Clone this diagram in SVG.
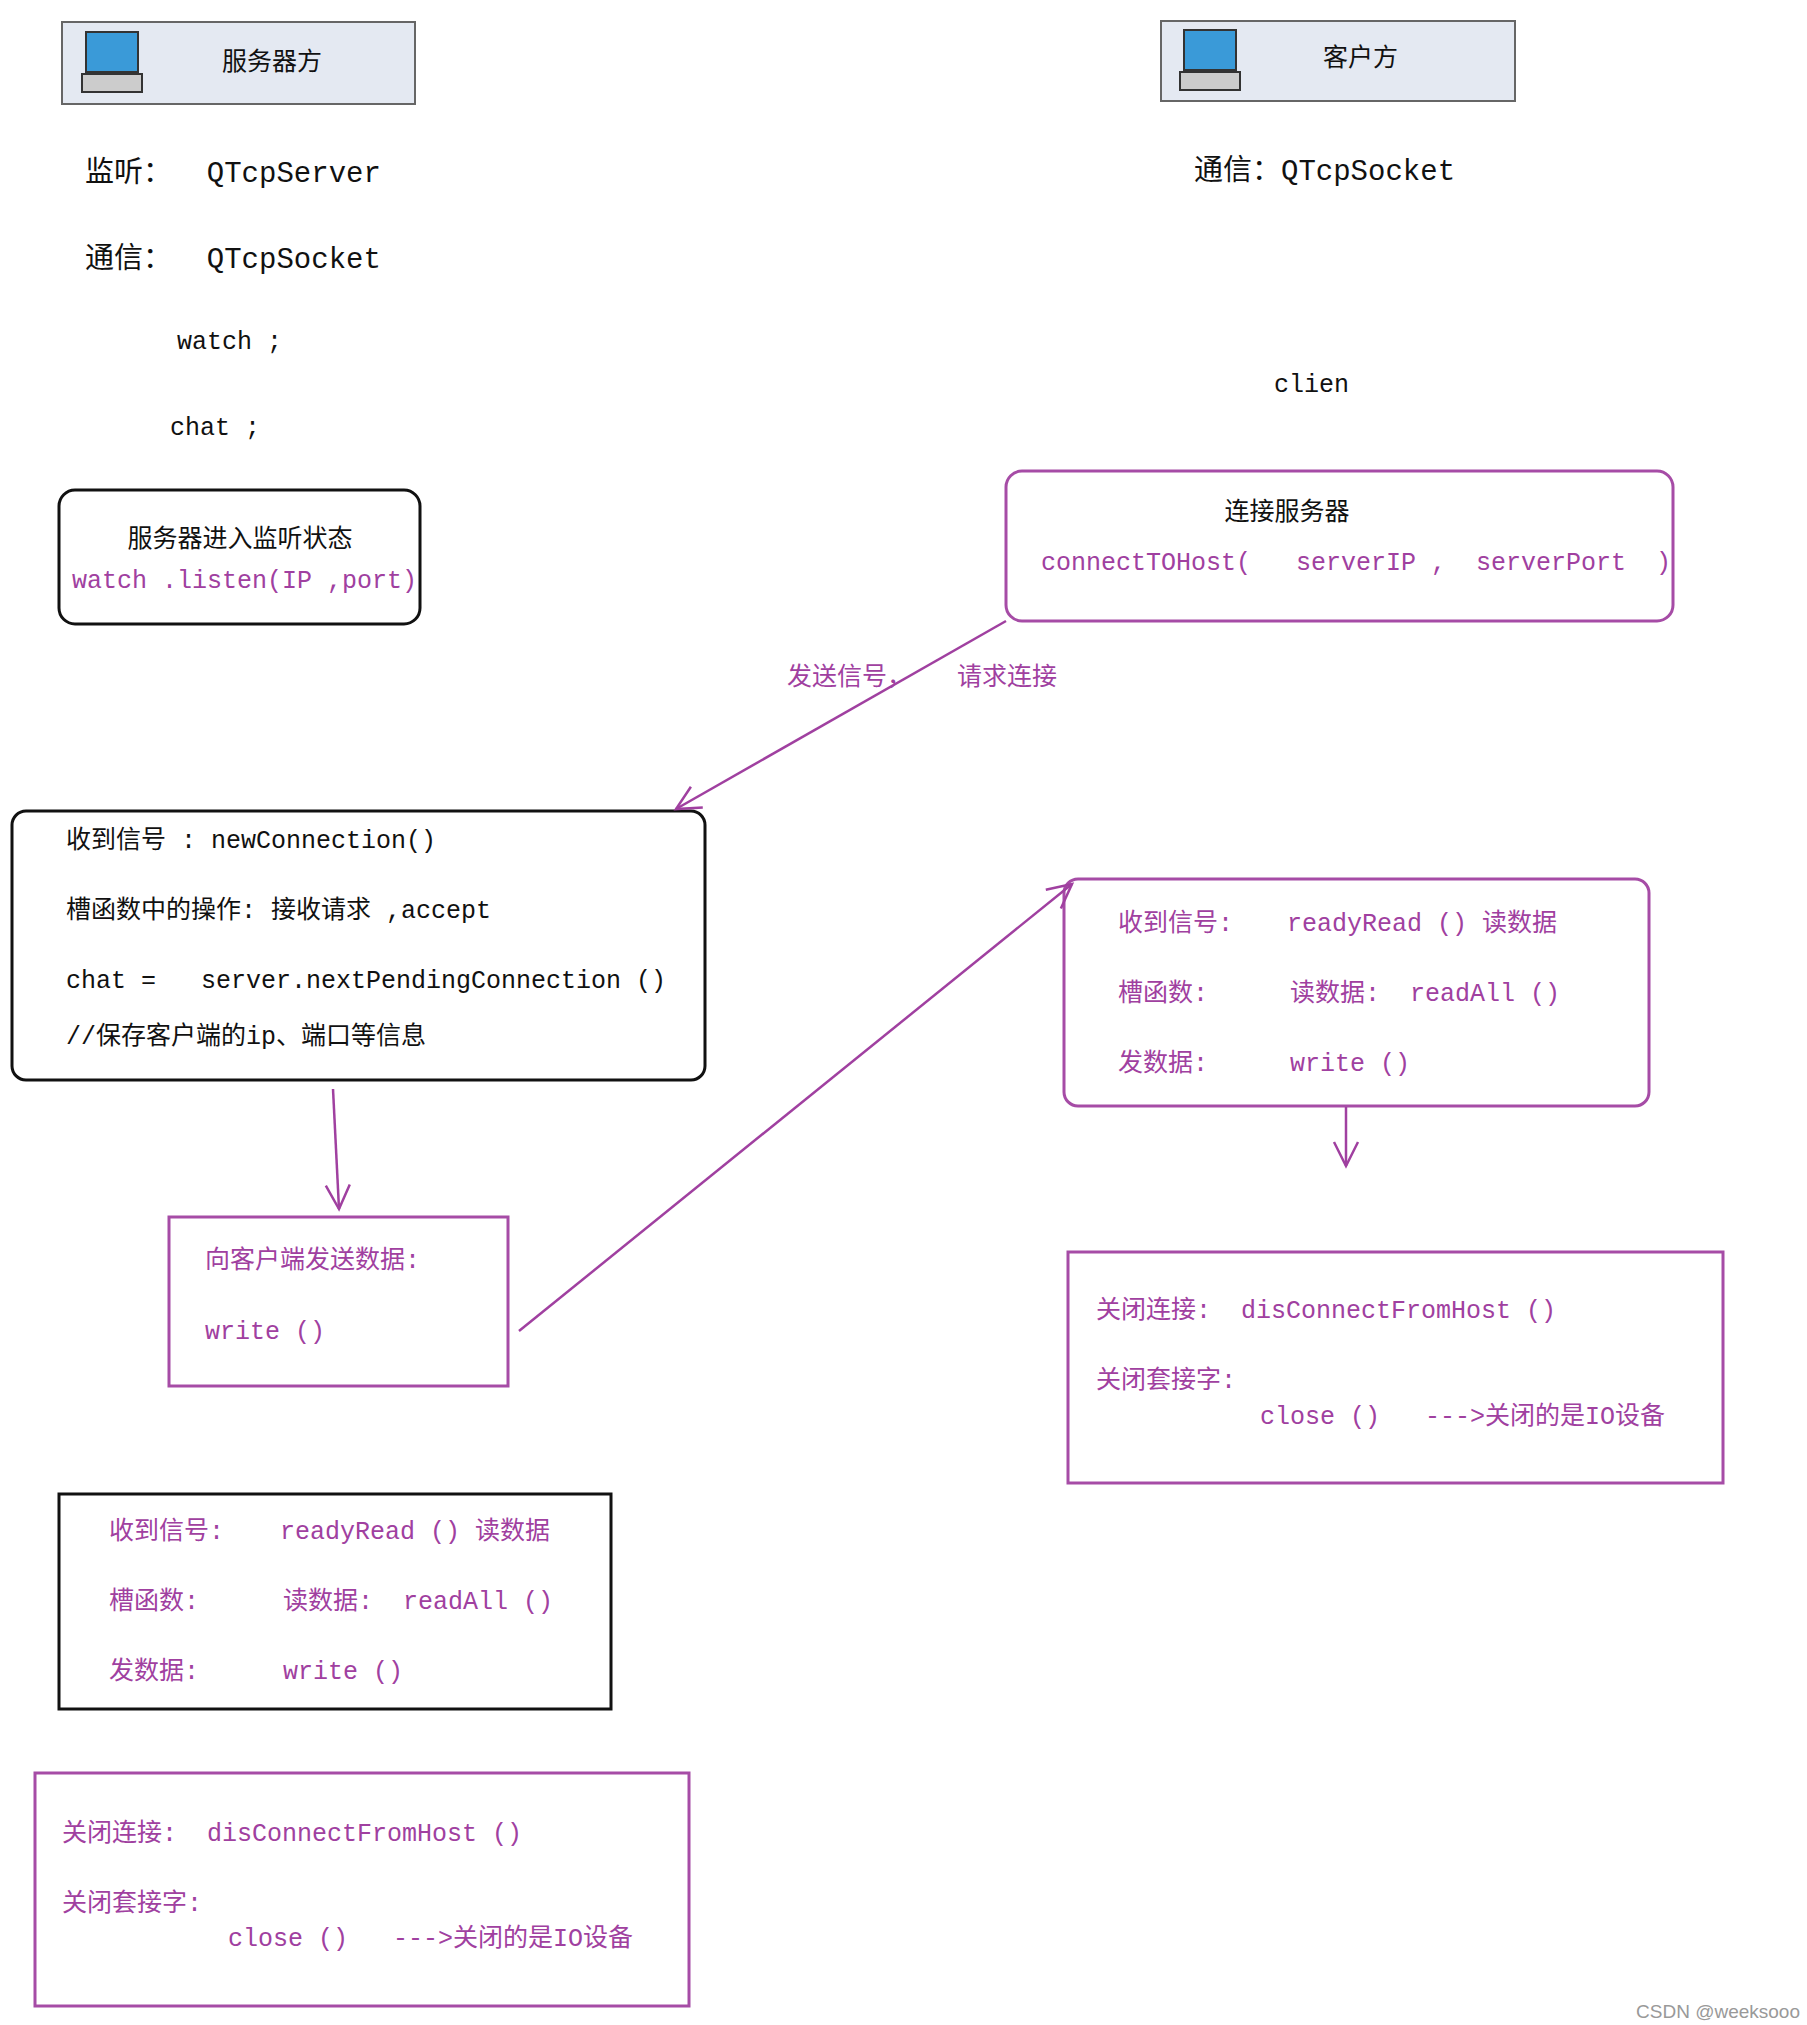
<svg xmlns="http://www.w3.org/2000/svg" width="1807" height="2025" viewBox="0 0 1807 2025">
<defs>
<style>
.t{font-family:"Liberation Mono","Noto Sans CJK SC",monospace;font-size:25px;fill:#111;white-space:pre}
.b{font-size:29px}
.p{fill:#a040a0}
.bk{fill:none;stroke:#111;stroke-width:3}
.pk{fill:none;stroke:#a64ca6;stroke-width:3}
.ln{fill:none;stroke:#a040a0;stroke-width:2.5}
.hd{fill:#e4e9f2;stroke:#666;stroke-width:2}
</style>
<marker id="ah" markerWidth="30" markerHeight="30" refX="26" refY="15" orient="auto" markerUnits="userSpaceOnUse">
<path d="M2,3 L26,15 L2,27" fill="none" stroke="#a040a0" stroke-width="2.5"/>
</marker>
</defs>
<rect width="1807" height="2025" fill="#fff"/>
<g id="server-header">
<rect class="hd" x="62" y="22" width="353" height="82"/>
<rect x="86" y="32" width="52" height="40" fill="#3a9ad8" stroke="#333" stroke-width="2"/>
<rect x="82" y="74" width="60" height="18" fill="#ccc" stroke="#333" stroke-width="2"/>
<text class="t" x="222" y="70">服务器方</text>
</g>
<g id="client-header">
<rect class="hd" x="1161" y="21" width="354" height="80"/>
<rect x="1184" y="30" width="52" height="40" fill="#3a9ad8" stroke="#333" stroke-width="2"/>
<rect x="1180" y="72" width="60" height="18" fill="#ccc" stroke="#333" stroke-width="2"/>
<text class="t" x="1323" y="66">客户方</text>
</g>
<g id="labels">
<text class="t b" x="85" y="182" xml:space="preserve">监听：  QTcpServer</text>
<text class="t b" x="85" y="268" xml:space="preserve">通信：  QTcpSocket</text>
<text class="t" x="177" y="349">watch ;</text>
<text class="t" x="170" y="435">chat ;</text>
<text class="t b" x="1194" y="180">通信：QTcpSocket</text>
<text class="t" x="1274" y="392">clien</text>
<text x="1800" y="2018" text-anchor="end" style="font-family:'Liberation Sans',sans-serif;font-size:19px;fill:#999">CSDN @weeksooo</text>
</g>
<g id="listen">
<rect class="bk" x="59" y="490" width="361" height="134" rx="16"/>
<text class="t" x="240" y="547" text-anchor="middle">服务器进入监听状态</text>
<text class="t p" x="72" y="588">watch .listen(IP ,port)</text>
</g>
<g id="connect">
<rect class="pk" x="1006" y="471" width="667" height="150" rx="16"/>
<text class="t" x="1287" y="520" text-anchor="middle">连接服务器</text>
<text class="t p" x="1041" y="570" xml:space="preserve">connectTOHost(   serverIP ,  serverPort  )</text>
</g>
<g id="newconn">
<rect class="bk" x="12" y="811" width="693" height="269" rx="14"/>
<text class="t" x="66" y="848">收到信号 : newConnection()</text>
<text class="t" x="66" y="918">槽函数中的操作: 接收请求 ,accept</text>
<text class="t" x="66" y="988" xml:space="preserve">chat =   server.nextPendingConnection ()</text>
<text class="t" x="66" y="1044">//保存客户端的ip、端口等信息</text>
</g>
<g id="send">
<rect class="pk" x="169" y="1217" width="339" height="169"/>
<text class="t p" x="205" y="1268">向客户端发送数据:</text>
<text class="t p" x="205" y="1339">write ()</text>
</g>
<g id="client-read">
<rect class="pk" x="1064" y="879" width="585" height="227" rx="14"/>
<text class="t p" x="1118" y="931">收到信号:</text><text class="t p" x="1287" y="931">readyRead () 读数据</text>
<text class="t p" x="1118" y="1001">槽函数:</text><text class="t p" x="1290" y="1001" xml:space="preserve">读数据:  readAll ()</text>
<text class="t p" x="1118" y="1071">发数据:</text><text class="t p" x="1290" y="1071">write ()</text>
</g>
<g id="client-close">
<rect class="pk" x="1068" y="1252" width="655" height="231"/>
<text class="t p" x="1096" y="1318" xml:space="preserve">关闭连接:  disConnectFromHost ()</text>
<text class="t p" x="1096" y="1388">关闭套接字:</text>
<text class="t p" x="1260" y="1424" xml:space="preserve">close ()   ---&gt;关闭的是IO设备</text>
</g>
<g id="server-read">
<rect class="bk" x="59" y="1494" width="552" height="215"/>
<text class="t p" x="109" y="1539">收到信号:</text><text class="t p" x="280" y="1539">readyRead () 读数据</text>
<text class="t p" x="109" y="1609">槽函数:</text><text class="t p" x="283" y="1609" xml:space="preserve">读数据:  readAll ()</text>
<text class="t p" x="109" y="1679">发数据:</text><text class="t p" x="283" y="1679">write ()</text>
</g>
<g id="server-close">
<rect class="pk" x="35" y="1773" width="654" height="233"/>
<text class="t p" x="62" y="1841" xml:space="preserve">关闭连接:  disConnectFromHost ()</text>
<text class="t p" x="62" y="1911">关闭套接字:</text>
<text class="t p" x="228" y="1946" xml:space="preserve">close ()   ---&gt;关闭的是IO设备</text>
</g>
<g id="connectors">
<line class="ln" x1="1006" y1="621" x2="676" y2="809" marker-end="url(#ah)"/>
<text class="t p" x="787" y="685" xml:space="preserve">发送信号，   请求连接</text>
<line class="ln" x1="333" y1="1089" x2="339" y2="1209" marker-end="url(#ah)"/>
<line class="ln" x1="519" y1="1331" x2="1072" y2="884" marker-end="url(#ah)"/>
<line class="ln" x1="1346" y1="1107" x2="1346" y2="1166" marker-end="url(#ah)"/>
</g>
</svg>
